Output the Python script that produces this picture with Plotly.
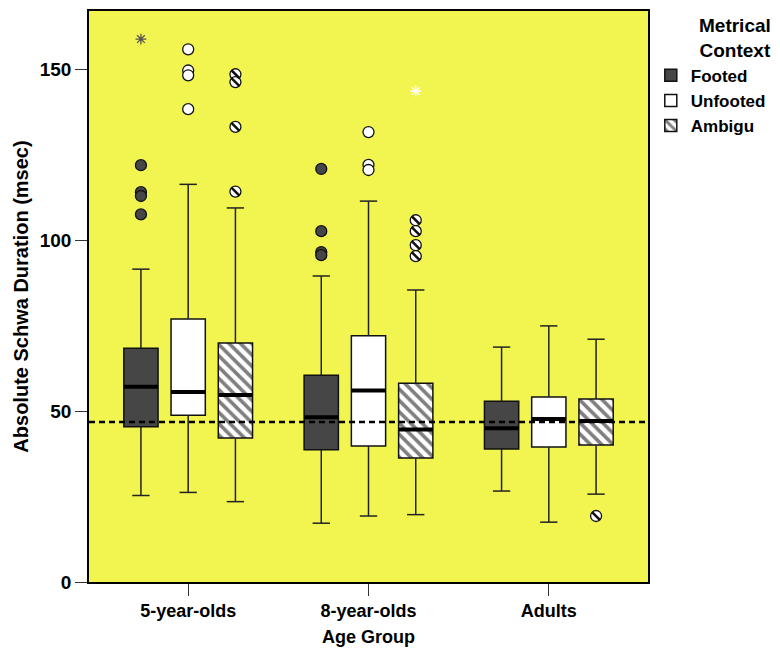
import plotly.graph_objects as go

# ---------------- data ----------------
groups = ["5-year-olds", "8-year-olds", "Adults"]
series = ["Footed", "Unfooted", "Ambigu"]

footed_q1 = [45.4, 38.7, 38.9]
footed_med = [57.1, 48.2, 45.0]
footed_q3 = [68.4, 60.5, 52.9]
footed_low = [25.3, 17.2, 26.6]
footed_high = [91.5, 89.5, 68.7]

unfooted_q1 = [48.8, 39.8, 39.5]
unfooted_med = [55.6, 56.0, 47.7]
unfooted_q3 = [76.9, 72.0, 54.1]
unfooted_low = [26.2, 19.3, 17.5]
unfooted_high = [116.3, 111.4, 74.9]

ambig_q1 = [42.1, 36.3, 40.1]
ambig_med = [54.7, 44.6, 47.1]
ambig_q3 = [69.9, 58.1, 53.5]
ambig_low = [23.5, 19.7, 25.7]
ambig_high = [109.4, 85.4, 71.0]

# outliers (group index, value)
footed_out_grp = [0, 0, 0, 0, 1, 1, 1, 1]
footed_out_val = [121.9, 114.0, 112.9, 107.5, 120.8, 102.6, 96.5, 95.6]
unfooted_out_grp = [0, 0, 0, 0, 1, 1, 1]
unfooted_out_val = [155.8, 149.6, 148.2, 138.3, 131.6, 122.0, 120.5]
ambig_out_grp = [0, 0, 0, 0, 1, 1, 1, 1, 2]
ambig_out_val = [148.5, 146.2, 133.1, 114.2, 105.8, 102.6, 98.5, 95.3, 19.3]

# extremes (asterisks)
footed_ext_grp = [0]
footed_ext_val = [158.8]
ambig_ext_grp = [1]
ambig_ext_val = [143.6]

reference_line = 46.8

y_ticks = [0, 50, 100, 150]

# ---------------- style ----------------
FONT = "Liberation Sans"
BG = "#F2F54F"
DARK = "#464646"
OFFSET = 0.262
BOXW = 0.19
CAPW = 0.048

fig = go.Figure()

specs = [
    (series[0], -OFFSET, DARK, None, footed_q1, footed_med, footed_q3, footed_low, footed_high,
     footed_out_grp, footed_out_val, DARK),
    (series[1], 0.0, "white", None, unfooted_q1, unfooted_med, unfooted_q3, unfooted_low, unfooted_high,
     unfooted_out_grp, unfooted_out_val, "white"),
    (series[2], OFFSET, "white", "\\", ambig_q1, ambig_med, ambig_q3, ambig_low, ambig_high,
     ambig_out_grp, ambig_out_val, "white"),
]

for name, off, color, pat, q1, med, q3, lo, hi, og, ov, ocol in specs:
    xs = [i + off for i in range(len(groups))]
    # whiskers + caps
    wx, wy = [], []
    for x, a, b, l, h in zip(xs, q1, q3, lo, hi):
        wx += [x, x, None, x, x, None, x - CAPW, x + CAPW, None, x - CAPW, x + CAPW, None]
        wy += [b, h, None, a, l, None, h, h, None, l, l, None]
    fig.add_trace(go.Scatter(x=wx, y=wy, mode="lines", line=dict(color="#222", width=1.5),
                             showlegend=False, hoverinfo="skip"))
    # boxes
    marker = dict(color=color, line=dict(color="#111", width=1.5))
    if pat:
        marker["pattern"] = dict(shape=pat, fgcolor="black", bgcolor="white", size=8, solidity=0.45)
    fig.add_trace(go.Bar(x=xs, base=q1, y=[b - a for a, b in zip(q1, q3)], width=BOXW,
                         marker=marker, name="<b>%s</b>" % name, showlegend=True))
    # medians
    mx, my = [], []
    for x, m in zip(xs, med):
        mx += [x - BOXW / 2, x + BOXW / 2, None]
        my += [m, m, None]
    fig.add_trace(go.Scatter(x=mx, y=my, mode="lines", line=dict(color="black", width=4),
                             showlegend=False, hoverinfo="skip"))
    # outliers
    ox = [g + off for g in og]
    fig.add_trace(go.Scatter(x=ox, y=ov, mode="markers",
                             marker=dict(symbol="circle", size=11, color=ocol,
                                         line=dict(color="#111", width=1.3)),
                             showlegend=False))
    if pat:
        fig.add_trace(go.Scatter(x=ox, y=ov, mode="markers",
                                 marker=dict(symbol="line-nw", size=8, color="#111",
                                             line=dict(color="#111", width=2.5)),
                                 showlegend=False, hoverinfo="skip"))

# extremes
fig.add_trace(go.Scatter(x=[g - OFFSET for g in footed_ext_grp], y=footed_ext_val, mode="markers",
                         marker=dict(symbol="asterisk-open", size=9, color="#555",
                                     line=dict(color="#555", width=1.3)),
                         showlegend=False))
fig.add_trace(go.Scatter(x=[g + OFFSET for g in ambig_ext_grp], y=ambig_ext_val, mode="markers",
                         marker=dict(symbol="asterisk-open", size=9, color="white",
                                     line=dict(color="white", width=1.3)),
                         showlegend=False))

fig.add_hline(y=reference_line, line=dict(color="black", width=2.5, dash="6px,4px"), layer="above")

fig.add_annotation(text="<b>Metrical<br>Context</b>", xref="paper", yref="paper",
                   x=1.155, y=0.997, xanchor="center", yanchor="top", showarrow=False,
                   font=dict(size=19, family=FONT, color="black"), align="center")

fig.update_layout(
    width=780, height=656,
    margin=dict(l=81, r=140, t=3, b=82),
    plot_bgcolor=BG, paper_bgcolor="white",
    barmode="overlay",
    font=dict(family=FONT, color="black"),
    legend=dict(
        x=1.005, y=0.918, xanchor="left", yanchor="top",
        font=dict(size=17, family=FONT), tracegroupgap=0, itemwidth=30,
    ),
)
fig.update_xaxes(
    range=[-0.55, 2.55],
    tickvals=list(range(len(groups))),
    ticktext=["<b>%s</b>" % g for g in groups],
    tickfont=dict(size=18, color="black"),
    ticks="outside", ticklen=12, tickcolor="#333", tickwidth=1.2,
    showline=True, linecolor="black", linewidth=1.5, mirror=True,
    showgrid=False, zeroline=False, automargin=False,
    title=dict(text="<b>Age Group</b>", font=dict(size=18), standoff=10),
)
fig.update_yaxes(
    range=[0, 167],
    tickvals=y_ticks,
    ticktext=["<b>%d</b>" % t for t in y_ticks],
    tickfont=dict(size=19, color="black"),
    ticks="outside", ticklen=12, tickcolor="#333", tickwidth=1.2,
    showline=True, linecolor="black", linewidth=1.5, mirror=True,
    showgrid=False, zeroline=False, automargin=False,
    title=dict(text="<b>Absolute Schwa Duration (msec)</b>", font=dict(size=20), standoff=6),
)

fig.write_html("out.html")
